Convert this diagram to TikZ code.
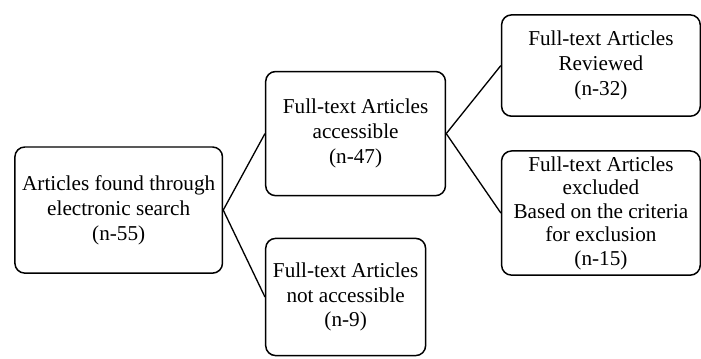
\documentclass[tikz,border=0pt]{standalone}
\usepackage{fontspec}
\setmainfont{Liberation Serif}
\usepackage{tikz}
\usetikzlibrary{positioning, calc}

\begin{document}
\begin{tikzpicture}[
    box/.style={draw, line width=0.9pt, rounded corners=6pt, align=center, inner sep=0.5pt,
        font=\fontsize{12.8}{15}\selectfont, fill=white},
    link/.style={line width=0.8pt}
]
    % Left - search
    \node[box, minimum width=125.4pt, minimum height=76.2pt] (found) {Articles found through\\electronic search\\(n-55)};

    % Middle column
    \node[box, minimum width=108.6pt, minimum height=75pt, right=25.2pt of found, yshift=46.2pt] (access) {Full-text Articles\\accessible\\(n-47)};
    \node[box, minimum width=96.6pt, minimum height=70.8pt, right=25.2pt of found, yshift=-52.5pt] (noaccess) {Full-text Articles\\not accessible\\(n-9)};

    % Right column
    \node[box, minimum width=120pt, minimum height=61.2pt, right=33pt of access, yshift=41.1pt] (reviewed) {Full-text Articles\\Reviewed\\(n-32)};
    \node[box, minimum width=120pt, minimum height=75pt, right=33pt of access, yshift=-48pt,
        font=\fontsize{12.8}{14.2}\selectfont] (excluded) {Full-text Articles\\excluded\\Based on the criteria\\for exclusion\\(n-15)};

    % Lines
    \draw[link] (found.east) -- (access.west);
    \draw[link] (found.east) -- (noaccess.west);
    \draw[link] (access.east) -- (reviewed.west);
    \draw[link] (access.east) -- (excluded.west);

    \useasboundingbox ($(found.center)+(-71.7pt,126.9pt)$) rectangle ++(420.6pt,-216.6pt);
\end{tikzpicture}
\end{document}
